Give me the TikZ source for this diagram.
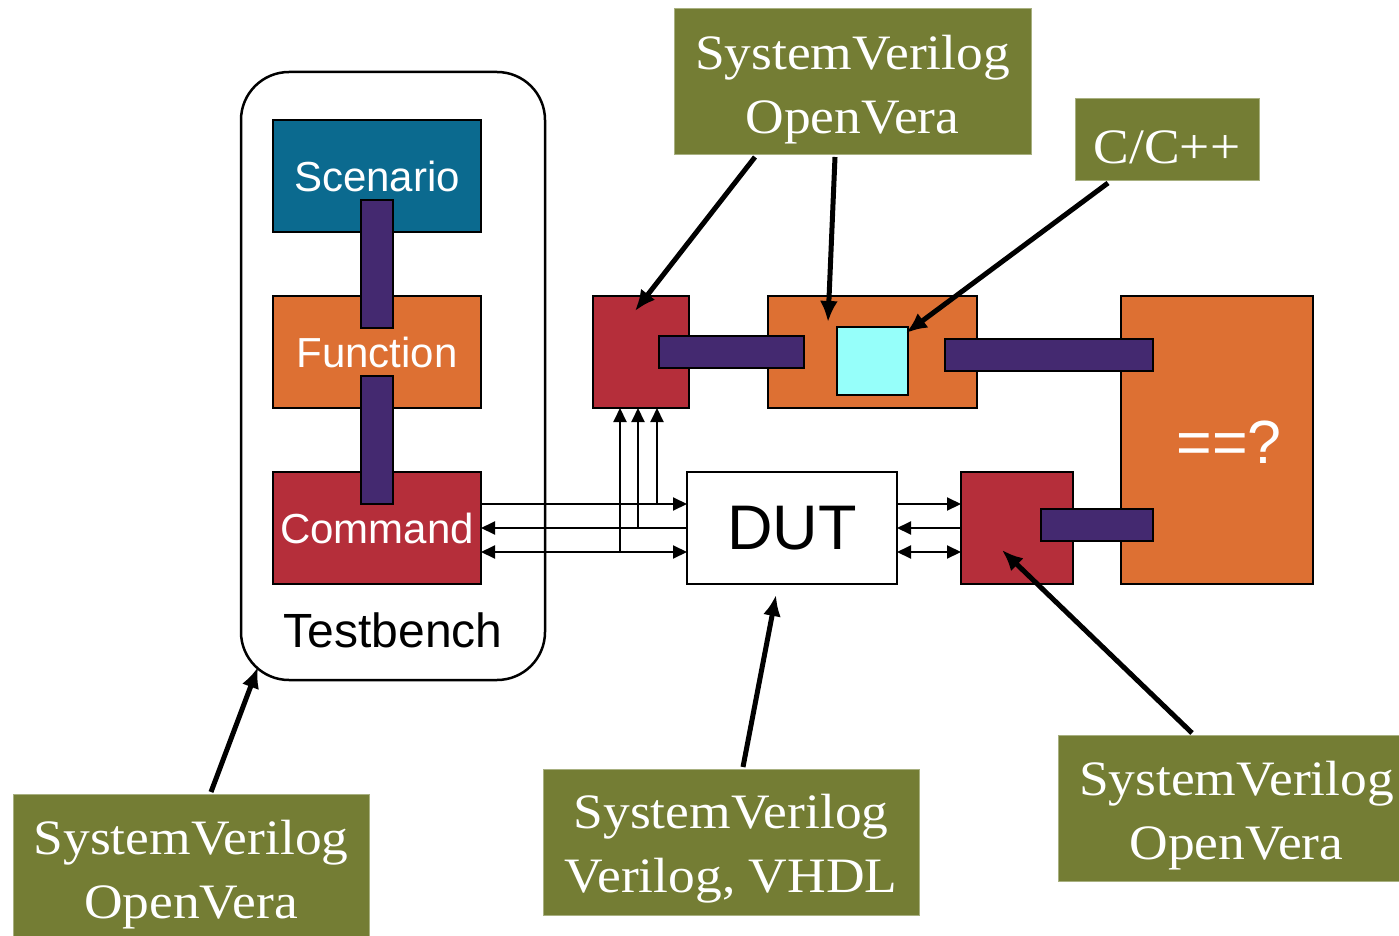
\documentclass[tikz,border=0pt]{standalone}
\usepackage{fontspec}
\setmainfont{Liberation Sans}
\newfontfamily\lserif[FakeStretch=1.08]{Liberation Serif}
\usetikzlibrary{arrows.meta}
\definecolor{scencol}{RGB}{11,106,143}
\definecolor{funccol}{RGB}{221,112,51}
\definecolor{cmdcol}{RGB}{181,46,58}
\definecolor{barcol}{RGB}{68,41,112}
\definecolor{cyancol}{RGB}{150,255,250}
\definecolor{lblcol}{RGB}{116,125,52}
\definecolor{lblborder}{RGB}{168,176,128}
\begin{document}
\begin{tikzpicture}[x=1pt,y=-1pt,
  blk/.style={draw=black, line width=2.5pt, inner sep=0pt, outer sep=0pt, text=white,
    font=\fontsize{42}{50}\selectfont},
  barbox/.style={draw=black, line width=2.2pt, fill=barcol, inner sep=0pt, outer sep=0pt},
  lbl/.style={fill=lblcol, draw=lblborder, line width=1pt, text=white, align=center,
    inner sep=0pt, outer sep=0pt, font=\lserif\fontsize{49.5}{64}\selectfont},
  bigarrow/.style={line width=5pt, -{Latex[length=21pt,width=18pt]}},
  sig/.style={line width=2pt},
  sigr/.style={sig, -{Triangle[length=14pt,width=13pt]}},
  sigl/.style={sig, {Triangle[length=14pt,width=13pt]}-},
  sigb/.style={sig, {Triangle[length=14pt,width=13pt]}-{Triangle[length=14pt,width=13pt]}}]
\useasboundingbox (0,0) rectangle (1399,936);

% Testbench container
\node[draw=black, line width=2.5pt, rounded corners=48pt, minimum width=304pt,
  minimum height=608pt, inner sep=0pt] (tb) at (393,376) {};
\node[font=\fontsize{48}{56}\selectfont, text=black] (tbtxt) at (393,630) {Testbench};

% Testbench layers
\node[blk, fill=scencol, minimum width=208pt, minimum height=112pt] (scen) at (377,176) {Scenario};
\node[blk, fill=funccol, minimum width=208pt, minimum height=112pt] (func) at (377,352) {Function};
\node[blk, fill=cmdcol, minimum width=208pt, minimum height=112pt] (cmd) at (377,528) {Command};
\node[barbox, minimum width=32pt, minimum height=128pt] (b1) at (377,264) {};
\node[barbox, minimum width=32pt, minimum height=128pt] (b2) at (377,440) {};

% Right side blocks
\node[blk, fill=cmdcol, minimum width=96pt, minimum height=112pt] (mon) at (641,352) {};
\node[blk, fill=funccol, minimum width=209pt, minimum height=112pt] (pred) at (872.5,352) {};
\node[draw=black, line width=2pt, fill=cyancol, minimum width=71pt, minimum height=68pt, inner sep=0pt] (cmod) at (872.5,361) {};
\node[blk, fill=funccol, minimum width=192pt, minimum height=288pt] (cmp) at (1217,440) {};
\node[text=white, font=\fontsize{61}{70}\selectfont] (cmptxt) at (1229,442) {==?};
\node[blk, fill=cmdcol, minimum width=112pt, minimum height=112pt] (rmon) at (1017,528) {};
\node[blk, fill=white, text=black, font=\fontsize{63}{72}\selectfont, minimum width=210pt, minimum height=112pt] (dut) at (792,528) {DUT};

\node[barbox, minimum width=145pt, minimum height=32pt] (b3) at (731.5,352) {};
\node[barbox, minimum width=208pt, minimum height=32pt] (b4) at (1049,355) {};
\node[barbox, minimum width=112pt, minimum height=32pt] (b5) at (1097,525) {};

% Signals between Command and DUT
\draw[sigr] ([yshift=24pt]cmd.east) -- ([yshift=24pt]dut.west);
\draw[sigl] (cmd.east) -- (dut.west);
\draw[sigb] ([yshift=-24pt]cmd.east) -- ([yshift=-24pt]dut.west);
\coordinate (v1) at (657,504);
\coordinate (v2) at (638,528);
\coordinate (v3) at (620,552);
\draw[sigr] (v1) -- (v1 |- mon.south);
\draw[sigr] (v2) -- (v2 |- mon.south);
\draw[sigr] (v3) -- (v3 |- mon.south);

% Signals between DUT and response monitor
\draw[sigr] ([yshift=24pt]dut.east) -- ([yshift=24pt]rmon.west);
\draw[sigl] (dut.east) -- (rmon.west);
\draw[sigb] ([yshift=-24pt]dut.east) -- ([yshift=-24pt]rmon.west);

% Language labels
\node[lbl, minimum width=357pt, minimum height=146pt] (ltop) at (852.5,82) {\rule{0pt}{49pt}SystemVerilog\\OpenVera};
\node[lbl, minimum width=184pt, minimum height=82pt] (lcpp) at (1167,140) {\rule{0pt}{47pt}C/C++};
\node[lbl, minimum width=356pt, minimum height=146pt] (lbl1) at (191,867) {\rule{0pt}{49pt}SystemVerilog\\OpenVera};
\node[lbl, minimum width=376pt, minimum height=146pt] (lbm) at (731,842) {\rule{0pt}{47pt}SystemVerilog\\Verilog, VHDL};
\node[lbl, minimum width=357pt, minimum height=146pt] (lbr) at (1236.5,808) {\rule{0pt}{49pt}SystemVerilog\\OpenVera};

% Pointer arrows
\coordinate (s1) at (755,157);  \coordinate (t1) at (635,311);
\coordinate (s2) at (835,157);  \coordinate (t2) at (828,322);
\coordinate (s3) at (1108,183); \coordinate (t3) at (906,333);
\coordinate (s4) at (211,792);  \coordinate (t4) at (258,667);
\coordinate (s5) at (743,767);  \coordinate (t5) at (776,595);
\coordinate (s6) at (1192,733); \coordinate (t6) at (1002,550);
\draw[bigarrow] (s1) -- (t1);
\draw[bigarrow] (s2) -- (t2);
\draw[bigarrow] (s3) -- (t3);
\draw[bigarrow] (s4) -- (t4);
\draw[bigarrow] (s5) -- (t5);
\draw[bigarrow] (s6) -- (t6);
\end{tikzpicture}
\end{document}
